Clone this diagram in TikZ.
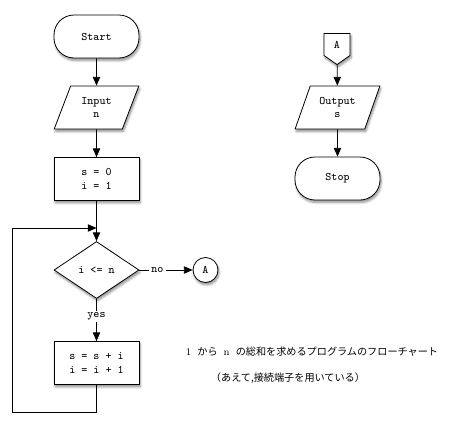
\documentclass[tikz,border=0pt]{standalone}
\usepackage{fontspec}
\newfontfamily\jpfont{Noto Sans CJK JP}
\usepackage{tikz}
\usetikzlibrary{positioning, shapes.geometric, shapes.symbols, arrows.meta, shadows.blur}

\begin{document}
\begin{tikzpicture}[
    x=0.75pt, y=-0.75pt,
    font=\ttfamily\fontsize{8.6pt}{10pt}\selectfont,
    harrow/.style={-{Triangle[length=6.5pt, width=5.5pt]}, line width=0.6pt},
    shade/.style={blur shadow={shadow xshift=0.8pt, shadow yshift=-1.8pt, shadow blur steps=6, shadow opacity=45}},
    terminal/.style={
        rectangle,
        rounded corners=15pt,
        minimum width=63.75pt,
        minimum height=32.25pt,
        draw, line width=0.6pt, fill=white, shade
    },
    iobox/.style={
        trapezium,
        trapezium left angle=67,
        trapezium right angle=113,
        trapezium stretches,
        minimum width=63.75pt,
        minimum height=32.25pt,
        align=center,
        draw, line width=0.6pt, fill=white, shade
    },
    procbox/.style={
        rectangle,
        minimum width=63.75pt,
        minimum height=32.25pt,
        align=center,
        draw, line width=0.6pt, fill=white, shade
    },
    decision/.style={
        diamond,
        inner sep=0pt,
        minimum width=63.75pt,
        minimum height=42.75pt,
        draw, line width=0.6pt, fill=white, shade
    },
    joint/.style={
        circle,
        minimum size=18.75pt,
        inner sep=0pt,
        draw, line width=0.6pt, fill=white, shade
    },
    offpage/.style={
        signal,
        signal to=south,
        signal pointer angle=110,
        minimum width=19.5pt,
        minimum height=18.75pt,
        inner sep=1pt,
        draw, line width=0.6pt, fill=white, shade
    },
    edgelabel/.style={fill=white, inner sep=1.5pt},
    caption/.style={font=\jpfont\fontsize{7.6pt}{9pt}\selectfont}
]

\useasboundingbox (0,0) rectangle (454,425);

% --- main flow ---
\node (start) [terminal] at (96.5,36.5) {Start};
\node (input) [iobox] at (96.5,107.5) {Input\\n};
\node (init) [procbox] at (96.5,179) {s = 0\\i = 1};
\node (cond) [decision] at (96.5,270) {i <= n};
\node (body) [procbox] at (96.5,363) {s = s + i\\i = i + 1};
\node (conA) [joint] at (205.5,270) {A};

\coordinate (merge) at (96.5,228);
\coordinate (loopcorner) at (12,412);

\draw [harrow] (start) -- (input);
\draw [harrow] (input) -- (init);
\draw [harrow] (init) -- (cond);
\draw [harrow] (cond) -- node [edgelabel, pos=0.42] {yes} (body);
\draw [harrow] (cond) -- node [edgelabel, pos=0.34] {no} (conA);
\draw [harrow] (body.south) |- (loopcorner) |- (merge);

% --- continuation ---
\node (offA) [offpage] at (337,44.5) {A};
\node (output) [iobox] at (337.5,107.5) {Output\\s};
\node (stop) [terminal] at (337.5,178.5) {Stop};

\draw [harrow] (offA) -- (output);
\draw [harrow] (output) -- (stop);

% --- caption ---
\node (title) [caption] at (312,352) {{\rmfamily 1}\hspace{0.6em}から\hspace{0.6em}{\rmfamily n}\hspace{0.6em}の総和を求めるプログラムのフローチャート};
\node (note) [caption] at (288,378) {（あえて,接続端子を用いている）};

\end{tikzpicture}
\end{document}
